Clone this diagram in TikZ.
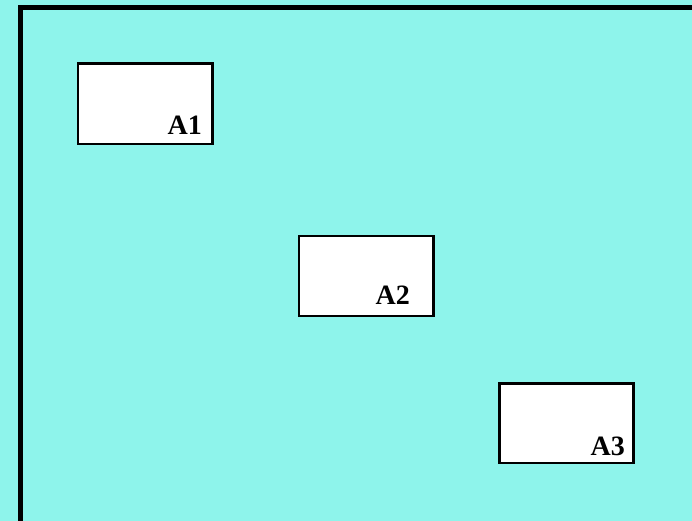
\documentclass[tikz,border=0pt]{standalone}
\usepackage{fontspec}
\setmainfont{Liberation Serif}
\definecolor{bgcyan}{HTML}{8EF4EB}
\begin{document}
\begin{tikzpicture}[x=1pt,y=-1pt,
  boxstyle/.style={draw=black,line width=2.2pt,fill=white},
  labelstyle/.style={font=\fontsize{28}{30}\selectfont\bfseries,anchor=base east,inner sep=0pt}]
\useasboundingbox (0,0) rectangle (692,521);
\fill[bgcyan] (0,0) rectangle (692,521);
\draw[line width=5pt,line cap=butt] (20.5,530) -- (20.5,7.5) -- (700,7.5);
\draw[boxstyle] (78,63.5) rectangle (212.5,144) coordinate (b1);
\draw[boxstyle] (299,236) rectangle (433.5,316) coordinate (b2);
\draw[boxstyle] (499.5,383.5) rectangle (633.5,463) coordinate (b3);
\node[labelstyle] (A1) at (202,135) {A1};
\node[labelstyle] (A2) at (410,304) {A2};
\node[labelstyle] (A3) at (625,455) {A3};
\end{tikzpicture}
\end{document}
